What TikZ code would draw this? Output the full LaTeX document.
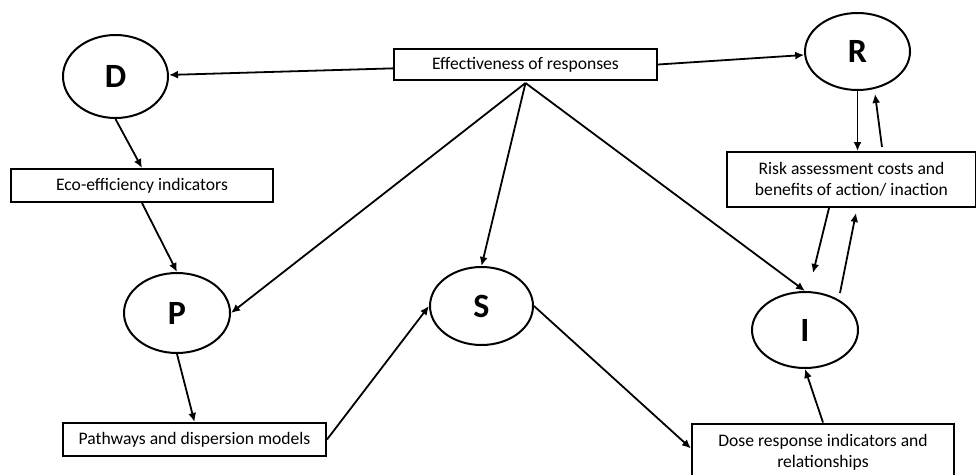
\documentclass[tikz,border=0pt]{standalone}
\usepackage{fontspec}
\setmainfont{Carlito}
\usepackage{tikz}
\usetikzlibrary{shapes.geometric,arrows.meta,positioning,calc}
\tikzset{
  box/.style={rectangle, draw=black, line width=2pt, fill=white,
              align=center, inner sep=2pt, font=\fontsize{17.6}{21.5}\selectfont},
  oval/.style={ellipse, draw=black, line width=2pt, fill=white,
               inner sep=0pt, font=\fontsize{34}{36}\selectfont\bfseries},
  ar/.style={-{Latex[length=9pt,width=8pt]}, line width=1.8pt}
}
\begin{document}
\begin{tikzpicture}[x=1pt, y=-1pt]
\useasboundingbox (0,0) rectangle (976,474);
% circles of the chain
\node[oval, minimum width=105, minimum height=83] (D) at (115.5,76.5) {D};
\node[oval, minimum width=105, minimum height=77] (R) at (857.5,51.5) {R};
\node[oval, minimum width=106, minimum height=80] (P) at (177,313) {P};
\node[oval, minimum width=103, minimum height=78] (S) at (481.5,306) {S};
\node[oval, minimum width=106, minimum height=76] (I) at (805,330) {I};
% boxes
\node[box, minimum width=263, minimum height=31] (eff) at (525.5,64.5) {Effectiveness of responses};
\node[box, minimum width=262, minimum height=33] (eco) at (142,185.5) {Eco-efficiency indicators};
\node[box, minimum width=249, minimum height=55] (risk) at (851.5,179.5) {Risk assessment costs and\\benefits of action/ inaction};
\node[box, minimum width=263, minimum height=33] (path) at (194.5,439.5) {Pathways and dispersion models};
\node[box, minimum width=262, minimum height=58] (dose) at (823,452.5) {Dose response indicators and\\relationships};
\coordinate (fan) at ([yshift=-2pt]eff.south);
\draw[ar] (eff) -- (D);
\draw[ar] (eff.east) -- (R);
\draw[ar] (fan) -- (P.east);
\draw[ar] (fan) -- (S.north);
\draw[ar] (fan) -- (I.north);
\draw[ar] (D.south) -- (eco.north);
\draw[ar] (eco.south) -- (P.north);
\draw[ar] (P.south) -- (path.north);
\draw[ar] (path.east) -- (S.west);
\draw[ar] (S.east) -- ([yshift=4pt]dose.west);
\draw[ar] (dose.north) -- (I.south);
\draw[ar] (R.south) -- (R.south |- risk.north);
% loose feedback arrows
\coordinate (rlo) at (882,147);
\coordinate (rhi) at (875,94);
\coordinate (ilo) at (813,273);
\coordinate (ist) at (840,293);
\coordinate (ihi) at (856,213);
\draw[ar] (rlo) -- (rhi);
\draw[ar] ([xshift=-22.5pt]risk.south) -- (ilo);
\draw[ar] (ist) -- (ihi);
\end{tikzpicture}
\end{document}
